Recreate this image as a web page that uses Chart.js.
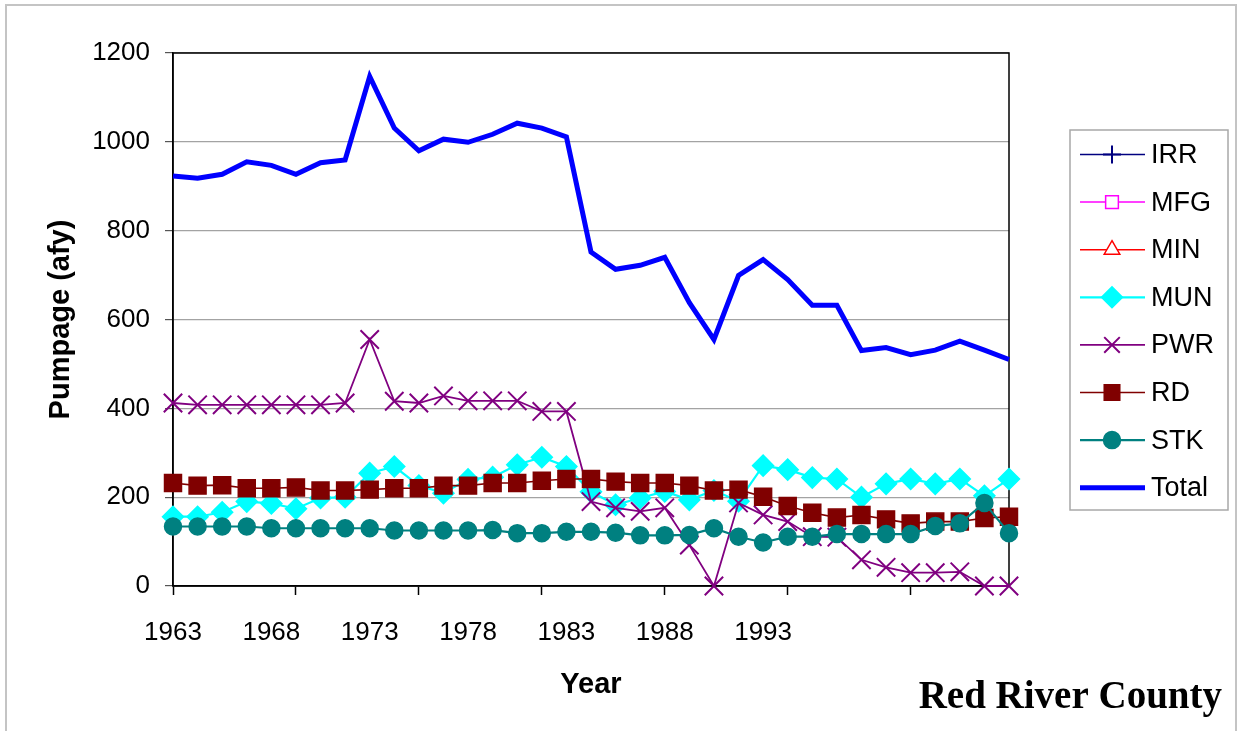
<!DOCTYPE html>
<html>
<head>
<meta charset="utf-8">
<title>Red River County pumpage</title>
<script src="https://cdn.jsdelivr.net/npm/chart.js@4.4.1/dist/chart.umd.min.js"></script>
<style>
  html, body { margin: 0; padding: 0; background: #fff; }
  #wrap { position: relative; width: 1237px; height: 731px; overflow: hidden; }
  #frame { position: absolute; left: 5px; top: 4px; width: 1228px; height: 760px;
           border: 2px solid #c4c4c4; border-bottom: none; }
  #chart { position: absolute; left: 0; top: 0; }
</style>
</head>
<body>
<div id="wrap">
  <div id="frame"></div>
  <canvas id="chart" width="1237" height="731"></canvas>
</div>
<script>
// pumpage by use, acre-feet per year
const years = [1963, 1964, 1965, 1966, 1967, 1968, 1969, 1970, 1971, 1972,
               1973, 1974, 1975, 1976, 1977, 1978, 1979, 1980, 1981, 1982,
               1983, 1984, 1985, 1986, 1987, 1988, 1989, 1990, 1991, 1992,
               1993, 1994, 1995, 1996, 1997];
const xTickLabels = ['1963', '1968', '1973', '1978', '1983', '1988', '1993'];
const yTicks = [0, 200, 400, 600, 800, 1000, 1200];

const irr = [];
const mfg = [];
const min = [];
const mun = [156, 156, 166, 190, 186, 174, 198, 200, 254, 269,
             226, 209, 240, 245, 273, 290, 269, 212, 183, 198,
             213, 194, 215, 191, 271, 262, 244, 241, 200, 230,
             241, 230, 241, 203, 241];
const pwr = [412, 408, 408, 408, 408, 408, 408, 412, 555, 416,
             412, 428, 417, 417, 417, 393, 393, 190, 176, 168,
             176, 92, 0, 187, 160, 145, 111, 110, 59, 42,
             30, 30, 32, 0, 0];
const rd = [232, 226, 227, 220, 220, 222, 215, 215, 217, 220,
            220, 226, 226, 232, 232, 237, 241, 241, 235, 232,
            232, 226, 215, 217, 201, 180, 165, 154, 160, 150,
            141, 145, 145, 153, 156];
const stk = [134, 134, 134, 134, 130, 130, 130, 130, 130, 125,
             125, 125, 125, 126, 119, 119, 122, 122, 120, 114,
             114, 115, 130, 111, 98, 111, 111, 117, 117, 117,
             117, 135, 141, 187, 119];
const total = [923, 918, 927, 955, 947, 927, 953, 959, 1147, 1031,
               980, 1006, 999, 1017, 1042, 1031, 1011, 752, 713, 722,
               740, 638, 555, 699, 735, 690, 632, 632, 530, 537,
               521, 531, 551, 531, 510];

const SANS = '"Liberation Sans", Arial, sans-serif';
const SERIF = '"Liberation Serif", "Times New Roman", serif';
const labelEvery = 4;   // a year label on every 4th category
const tickEvery = 5;    // a tick mark on every 5th category

function series(label, data, color, style, radius, fillColor, lineWidth) {
  return {
    label: label,
    data: data,
    borderColor: color,
    borderWidth: lineWidth,
    pointStyle: style,
    pointRadius: radius,
    pointBackgroundColor: fillColor,
    pointBorderColor: color,
    pointBorderWidth: style === 'crossRot' || style === 'cross' ? 2 : 1.5,
    tension: 0,
    fill: false,
    clip: false
  };
}

const datasets = [
  series('IRR', irr, '#000080', 'cross', 9, '#000080', 1.5),
  series('MFG', mfg, '#ff00ff', 'rect', 9, '#ffffff', 1.5),
  series('MIN', min, '#ff0000', 'triangle', 9, '#ffffff', 1.5),
  series('MUN', mun, '#00ffff', 'rectRot', 10.5, '#00ffff', 2.2),
  series('PWR', pwr, '#800080', 'crossRot', 13, '#800080', 1.8),
  series('RD', rd, '#800000', 'rect', 12, '#800000', 1.6),
  series('STK', stk, '#008080', 'circle', 8.5, '#008080', 2.2),
  series('Total', total, '#0000ff', 'circle', 0, '#0000ff', 5)
];
// later series sit on top of earlier ones
datasets.forEach((ds, i) => { ds.order = datasets.length - i; });

// box around the plot area, under the lines
const plotBorder = {
  id: 'plotBorder',
  beforeDatasetsDraw(chart) {
    const a = chart.chartArea, ctx = chart.ctx;
    ctx.save();
    ctx.strokeStyle = '#000';
    ctx.lineWidth = 1.5;
    ctx.strokeRect(a.left, a.top, a.right - a.left, a.bottom - a.top);
    ctx.restore();
  }
};

// legend on the right with line + marker samples, and the county name
const sideLegend = {
  id: 'sideLegend',
  afterDraw(chart) {
    const ctx = chart.ctx;
    ctx.save();
    ctx.strokeStyle = '#a8a8a8';
    ctx.lineWidth = 1.5;
    ctx.strokeRect(1070, 130, 158, 380);
    chart.data.datasets.forEach((ds, i) => {
      const y = 154.5 + i * 47.6;
      ctx.strokeStyle = ds.borderColor;
      ctx.lineWidth = ds.borderWidth;
      ctx.beginPath();
      ctx.moveTo(1080, y);
      ctx.lineTo(1145, y);
      ctx.stroke();
      if (ds.pointRadius > 0) {
        ctx.fillStyle = ds.pointBackgroundColor;
        ctx.strokeStyle = ds.pointBorderColor;
        ctx.lineWidth = ds.pointBorderWidth;
        Chart.helpers.drawPoint(ctx, {
          pointStyle: ds.pointStyle,
          radius: Math.min(ds.pointRadius, 11),
          borderWidth: ds.pointBorderWidth,
          rotation: 0
        }, 1112, y);
      }
      ctx.fillStyle = '#000';
      ctx.font = '27px ' + SANS;
      ctx.textAlign = 'left';
      ctx.textBaseline = 'middle';
      ctx.fillText(ds.label, 1151, y + 1);
    });
    ctx.font = 'bold 39px ' + SERIF;
    ctx.textAlign = 'right';
    ctx.textBaseline = 'alphabetic';
    ctx.fillText('Red River County', 1222, 708);
    ctx.restore();
  }
};

new Chart(document.getElementById('chart'), {
  type: 'line',
  data: { labels: years, datasets: datasets },
  options: {
    responsive: false,
    animation: false,
    events: [],
    layout: { padding: { top: 53, right: 228, left: 0, bottom: 0 } },
    plugins: { legend: { display: false }, tooltip: { enabled: false } },
    scales: {
      x: {
        type: 'category',
        offset: false,
        grid: {
          drawOnChartArea: false,
          tickLength: 9,
          tickWidth: 1.5,
          tickColor: c => c.index % tickEvery === 0 ? '#000' : 'rgba(0,0,0,0)'
        },
        border: { color: '#000', width: 1.5 },
        ticks: {
          autoSkip: false,
          maxRotation: 0,
          padding: 22,
          color: '#000',
          font: { family: SANS, size: 26 },
          callback: (v, i) => i % labelEvery === 0 ? (xTickLabels[i / labelEvery] || '') : ''
        },
        title: {
          display: true,
          text: 'Year',
          color: '#000',
          font: { family: SANS, size: 29, weight: 'bold' },
          padding: { top: 0, bottom: 29 }
        },
        afterFit: s => { s.height = 145; }
      },
      y: {
        min: yTicks[0],
        max: yTicks[yTicks.length - 1],
        afterBuildTicks: s => { s.ticks = yTicks.map(v => ({ value: v })); },
        grid: { color: '#a3a3a3', lineWidth: 1.2, tickLength: 8, tickColor: '#555' },
        border: { color: '#000', width: 1.5 },
        ticks: {
          padding: 15,
          color: '#000',
          font: { family: SANS, size: 26 },
          callback: v => String(v)
        },
        title: {
          display: true,
          text: 'Pumpage (afy)',
          color: '#000',
          font: { family: SANS, size: 29, weight: 'bold' },
          padding: { top: 44, bottom: 0 }
        },
        afterFit: s => { s.width = 173; }
      }
    }
  },
  plugins: [plotBorder, sideLegend]
});
</script>
</body>
</html>
